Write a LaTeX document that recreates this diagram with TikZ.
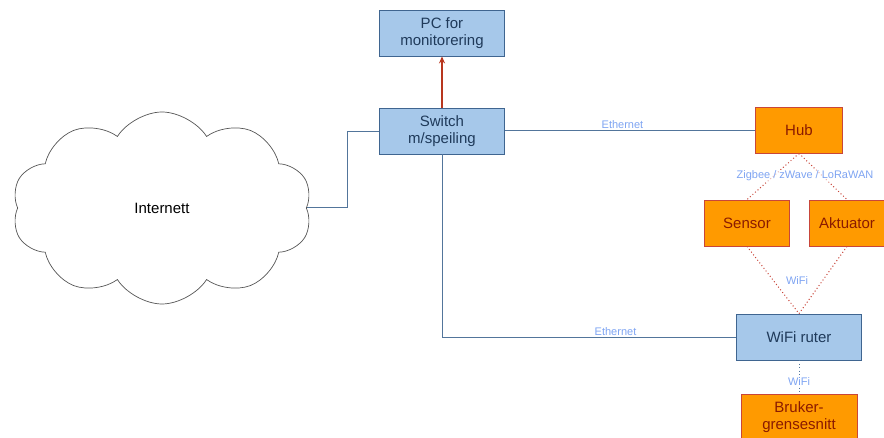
\documentclass[tikz,border=0pt]{standalone}
\usepackage{fontspec}
\setmainfont{Liberation Sans}
\usepackage{xcolor}
\definecolor{boxblue}{HTML}{A6C8EA}
\definecolor{edgeblue}{HTML}{3F6590}
\definecolor{textblue}{HTML}{1F3A5A}
\definecolor{boxorange}{HTML}{FF9A00}
\definecolor{edgered}{HTML}{C8463A}
\definecolor{textred}{HTML}{8A1A00}
\definecolor{wireblue}{HTML}{52759B}
\definecolor{labelblue}{HTML}{7EA4F2}
\definecolor{arrowred}{HTML}{B8361E}
\definecolor{cloudgray}{HTML}{555555}
\usetikzlibrary{arrows.meta, positioning, shapes.symbols}

\begin{document}
\begin{tikzpicture}[x=1pt, y=-1pt,
  netbox/.style={draw=edgeblue, fill=boxblue, line width=0.8pt, text=textblue,
    minimum width=125pt, minimum height=46pt, align=center, font=\fontsize{15}{17}\selectfont},
  devbox/.style={draw=edgered, fill=boxorange, line width=0.8pt, text=textred,
    minimum height=46pt, align=center, font=\fontsize{15}{17}\selectfont},
  wire/.style={draw=wireblue, line width=0.8pt},
  radio/.style={draw=edgered, line width=1pt, dash pattern=on 1pt off 2.4pt},
  uilink/.style={draw=wireblue, line width=1pt, dash pattern=on 1pt off 2.4pt},
  linklabel/.style={text=labelblue, font=\fontsize{11}{13}\selectfont, inner sep=1pt}]
  \useasboundingbox (0,0) rectangle (884,438);

  % Cloud
  \node[cloud, cloud puffs=10, cloud puff arc=115, aspect=1.6, draw=cloudgray, line width=0.7pt,
    minimum width=300pt, minimum height=192pt, font=\fontsize{15}{17}\selectfont] (internett) at (162,208) {Internett};

  % Blue network boxes
  \node[netbox] (pc) at (442,33) {PC for\\monitorering};
  \node[netbox] (switch) at (442,131) {Switch\\m/speiling};
  \node[netbox] (ruter) at (799,337) {WiFi ruter};

  % Orange devices
  \node[devbox, minimum width=87pt] (hub) at (799,130) {Hub};
  \node[devbox, minimum width=85pt] (sensor) at (747,223) {Sensor};
  \node[devbox, minimum width=76pt] (aktuator) at (847,223) {Aktuator};
  \node[devbox, minimum width=116pt] (bruker) at (799,417) {Bruker-\\grensesnitt};

  % Wired links
  \coordinate (bend1) at (347,207);
  \coordinate (bend2) at (347,131);
  \draw[wire] (internett.east |- bend1) -- (bend1) -- (bend2) -- (switch.west);
  \draw[wire] (switch.east |- hub.west) -- node[linklabel, above, pos=0.47] {Ethernet} (hub.west);
  \coordinate (bend3) at (442,337);
  \draw[wire] (switch.south) -- (bend3) -- node[linklabel, above, pos=0.59] {Ethernet} (ruter.west);
  \draw[arrowred, line width=1.2pt, -{Stealth[length=7pt, width=6pt]}] (switch.north) -- (pc.south);

  % Radio links
  \draw[radio] (hub.south) -- (sensor.north);
  \draw[radio] (hub.south) -- (aktuator.north);
  \node[linklabel, fill=white, fill opacity=0.6, text opacity=1] (zlabel) at (805,176) {Zigbee / zWave / LoRaWAN};
  \draw[radio] (sensor.south) -- (ruter.north);
  \draw[radio] (aktuator.south) -- (ruter.north);
  \node[linklabel] (wlabel) at (797,281) {WiFi};
  \draw[uilink] (ruter.south) -- (bruker.north);
  \node[linklabel] (ulabel) at (799,382) {WiFi};
\end{tikzpicture}
\end{document}
